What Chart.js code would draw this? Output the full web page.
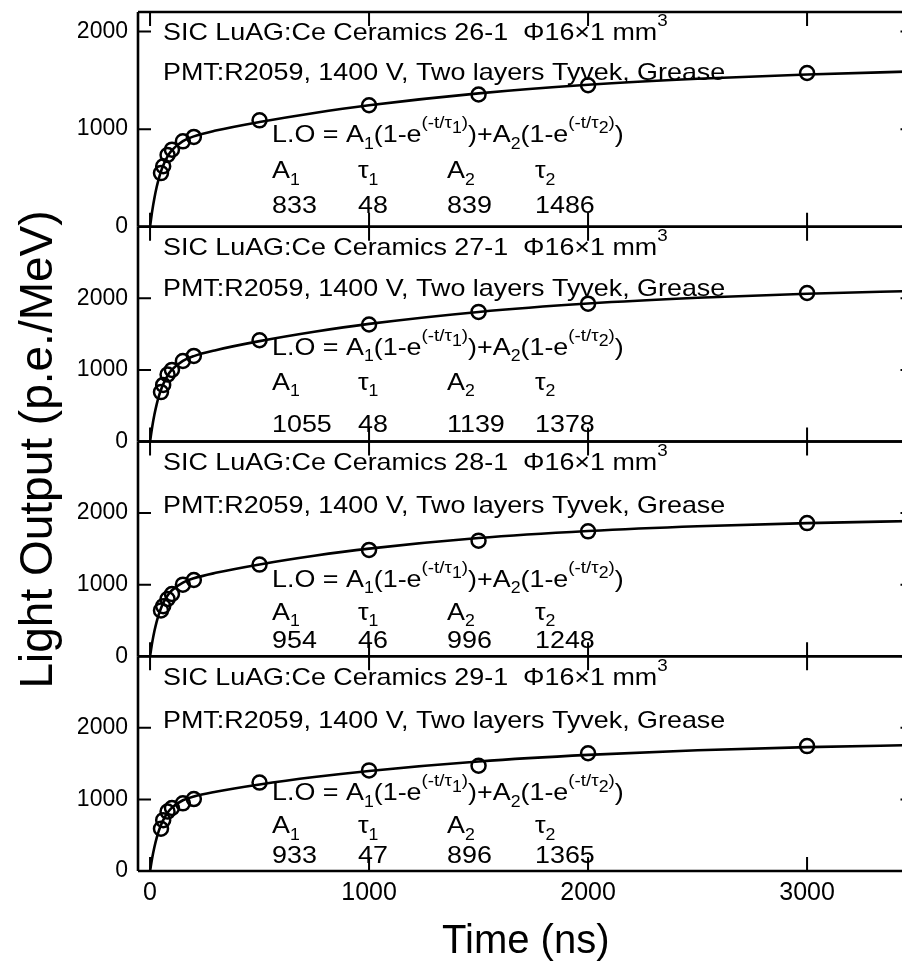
<!DOCTYPE html>
<html><head><meta charset="utf-8">
<script src="https://cdn.jsdelivr.net/npm/chart.js@4.4.0/dist/chart.umd.min.js"></script>
<style>html,body{margin:0;padding:0;background:#fff;overflow:hidden;width:902px;height:964px}
#wrap{width:923px;height:964px}</style></head>
<body><div id="wrap"><canvas id="c" width="923" height="964"></canvas></div>
<script>
// ---------- data ----------
const sampleIds = ['26-1', '27-1', '28-1', '29-1'];
const gateTimes = [50, 60, 80, 100, 150, 200, 500, 1000, 1500, 2000, 3000];
const lo26 = [550, 620, 735, 790, 875, 920, 1090, 1245, 1355, 1450, 1575];
const lo27 = [690, 790, 935, 1000, 1125, 1195, 1415, 1635, 1810, 1925, 2075];
const lo28 = [640, 700, 800, 870, 1000, 1065, 1280, 1485, 1615, 1745, 1860];
const lo29 = [590, 710, 830, 880, 945, 1005, 1235, 1405, 1470, 1645, 1745];
const fitTimes = [0, 10, 20, 30, 40, 50, 60, 80, 100, 150, 200, 300, 500, 750, 1000, 1500, 2000, 2500, 3000, 3500];
const fit26 = [0, 163, 295, 404, 493, 567, 627, 720, 784, 877, 926, 985, 1073, 1166, 1244, 1366, 1454, 1516, 1560, 1592];
const fit27 = [0, 207, 376, 515, 629, 723, 801, 920, 1003, 1126, 1193, 1276, 1402, 1533, 1643, 1810, 1927, 2008, 2065, 2104];
const fit28 = [0, 194, 352, 481, 586, 671, 742, 848, 922, 1030, 1089, 1165, 1283, 1404, 1503, 1651, 1749, 1816, 1860, 1890];
const fit29 = [0, 185, 336, 460, 561, 643, 711, 814, 885, 988, 1042, 1108, 1208, 1312, 1398, 1530, 1622, 1686, 1730, 1760];
const A1 = [833, 1055, 954, 933];
const tau1 = [48, 48, 46, 47];
const A2 = [839, 1139, 996, 896];
const tau2 = [1486, 1378, 1248, 1365];
const yMaxima = [2200, 3000, 3000, 3000];
const yTickValues = [0, 1000, 2000];
const xTickValues = [0, 1000, 2000, 3000];
const xRange = [-55, 3486];
const xTitle = 'Time (ns)';
const yTitle = 'Light Output (p.e./MeV)';

// ---------- layout / style ----------
const FONT = '"Liberation Sans", Arial, sans-serif';
const pointSets = [lo26, lo27, lo28, lo29];
const fitSets = [fit26, fit27, fit28, fit29];
const panelIds = ['p0', 'p1', 'p2', 'p3'];
const textRows = [ // baselines relative to panel top
  {title: 28, pmt: 68, lo: 130, ar: 166, val: 201},
  {title: 28, pmt: 69, lo: 128, ar: 163, val: 205},
  {title: 28, pmt: 71, lo: 145, ar: 178, val: 206},
  {title: 29, pmt: 72, lo: 144, ar: 177, val: 207}
];
const TXT = 24, SX = 1.12;

function rich(ctx, x, y, segs, size, sx) {
  ctx.save();
  ctx.translate(x, y);
  ctx.scale(sx, 1);
  ctx.textBaseline = 'alphabetic';
  ctx.textAlign = 'left';
  let cx = 0;
  for (const s of segs) {
    let fs = size, dy = 0;
    if (s.k === 'sub') { fs = size * 0.66; dy = size * 0.28; }
    else if (s.k === 'sup') { fs = size * 0.7; dy = -size * 0.58; }
    else if (s.k === 'supsub') { fs = size * 0.66; dy = -size * 0.36; }
    ctx.font = fs + 'px ' + FONT;
    ctx.fillText(s.t, cx, dy);
    cx += ctx.measureText(s.t).width;
  }
  ctx.restore();
}

const framePlugin = {
  id: 'frame',
  afterDraw(chart) {
    const ctx = chart.ctx, ca = chart.chartArea, xs = chart.scales.x;
    ctx.save();
    ctx.fillStyle = '#000';
    ctx.strokeStyle = '#000';
    panelIds.forEach((id, i) => {
      const ys = chart.scales[id];
      const top = ys.top, bot = ys.bottom, L = ca.left, R = ca.right;
      ctx.lineWidth = 2.6;
      ctx.beginPath();
      ctx.moveTo(L, top); ctx.lineTo(R, top);
      ctx.moveTo(L, bot); ctx.lineTo(R, bot);
      ctx.moveTo(L, top); ctx.lineTo(L, bot);
      ctx.moveTo(R, top); ctx.lineTo(R, bot);
      ctx.stroke();
      ctx.lineWidth = 2;
      ctx.beginPath();
      yTickValues.forEach(v => {
        const py = ys.getPixelForValue(v);
        ctx.moveTo(L, py); ctx.lineTo(L + 13, py);
        ctx.moveTo(R, py); ctx.lineTo(R - 13, py);
      });
      xTickValues.forEach(v => {
        const px = xs.getPixelForValue(v);
        ctx.moveTo(px, top); ctx.lineTo(px, top + 14);
        ctx.moveTo(px, bot); ctx.lineTo(px, bot - 14);
      });
      ctx.stroke();

      // annotations
      const r = textRows[i];
      const x0 = L + 25, xc = [L + 134, L + 220, L + 309, L + 397];
      rich(ctx, x0, top + r.title, [{t: 'SIC LuAG:Ce Ceramics ' + sampleIds[i] + '  \u03A616\u00D71 mm'}, {t: '3', k: 'sup'}], TXT, SX);
      rich(ctx, x0, top + r.pmt, [{t: 'PMT:R2059, 1400 V, Two layers Tyvek, Grease'}], TXT, SX);
      rich(ctx, xc[0], top + r.lo, [
        {t: 'L.O = A'}, {t: '1', k: 'sub'}, {t: '(1-e'}, {t: '(-t/\u03C4', k: 'sup'}, {t: '1', k: 'supsub'}, {t: ')', k: 'sup'},
        {t: ')+A'}, {t: '2', k: 'sub'}, {t: '(1-e'}, {t: '(-t/\u03C4', k: 'sup'}, {t: '2', k: 'supsub'}, {t: ')', k: 'sup'}, {t: ')'}
      ], TXT, SX);
      rich(ctx, xc[0], top + r.ar, [{t: 'A'}, {t: '1', k: 'sub'}], TXT, SX);
      rich(ctx, xc[1], top + r.ar, [{t: '\u03C4'}, {t: '1', k: 'sub'}], TXT, SX);
      rich(ctx, xc[2], top + r.ar, [{t: 'A'}, {t: '2', k: 'sub'}], TXT, SX);
      rich(ctx, xc[3], top + r.ar, [{t: '\u03C4'}, {t: '2', k: 'sub'}], TXT, SX);
      rich(ctx, xc[0], top + r.val, [{t: String(A1[i])}], TXT, SX);
      rich(ctx, xc[1], top + r.val, [{t: String(tau1[i])}], TXT, SX);
      rich(ctx, xc[2], top + r.val, [{t: String(A2[i])}], TXT, SX);
      rich(ctx, xc[3], top + r.val, [{t: String(tau2[i])}], TXT, SX);
    });
    // y title
    ctx.save();
    ctx.translate(52, (ca.top + ca.bottom) / 2 + 8);
    ctx.rotate(-Math.PI / 2);
    ctx.font = '46px ' + FONT;
    ctx.textAlign = 'center';
    ctx.textBaseline = 'alphabetic';
    ctx.fillText(yTitle, 0, 0);
    ctx.restore();
    ctx.restore();
  }
};

const datasets = [];
const scales = {
  x: {
    type: 'linear', position: 'bottom', min: xRange[0], max: xRange[1],
    grid: {display: false, drawTicks: false}, border: {display: false},
    afterBuildTicks: s => { s.ticks = xTickValues.map(v => ({value: v})); },
    afterFit: s => { s.paddingLeft = 0; s.paddingRight = 0; },
    ticks: {color: '#000', font: {family: FONT, size: 25}, padding: 7, maxRotation: 0, autoSkip: false, callback: v => String(v)},
    title: {display: true, text: xTitle, color: '#000', font: {family: FONT, size: 40}, padding: {top: 3, bottom: -2}}
  }
};
panelIds.forEach((id, i) => {
  scales[id] = {
    type: 'linear', position: 'left', stack: 'panels', stackWeight: 1, weight: 4 - i,
    min: 0, max: yMaxima[i],
    grid: {display: false, drawTicks: false}, border: {display: false},
    afterBuildTicks: s => { s.ticks = yTickValues.map(v => ({value: v})); },
    afterFit: s => { s.width = 60; s.paddingTop = 0; s.paddingBottom = 0; },
    ticks: {color: '#000', font: {family: FONT, size: 23}, padding: 10, autoSkip: false, callback: v => String(v)}
  };
  datasets.push({
    type: 'line', yAxisID: id, xAxisID: 'x',
    data: fitTimes.map((t, j) => ({x: t, y: fitSets[i][j]})),
    borderColor: '#000', borderWidth: 2.6, pointRadius: 0, fill: false,
    cubicInterpolationMode: 'monotone'
  });
  datasets.push({
    type: 'scatter', yAxisID: id, xAxisID: 'x',
    data: gateTimes.map((t, j) => ({x: t, y: pointSets[i][j]})),
    showLine: false, pointRadius: 7, pointBorderWidth: 2.5,
    pointBorderColor: '#000', pointBackgroundColor: 'rgba(0,0,0,0)'
  });
});

new Chart(document.getElementById('c'), {
  type: 'scatter',
  data: {datasets},
  options: {
    responsive: false, animation: false, devicePixelRatio: 1,
    layout: {padding: {left: 78, top: 12, right: 0, bottom: 0}},
    plugins: {legend: {display: false}, tooltip: {enabled: false}},
    scales
  },
  plugins: [framePlugin]
});
</script></body></html>
